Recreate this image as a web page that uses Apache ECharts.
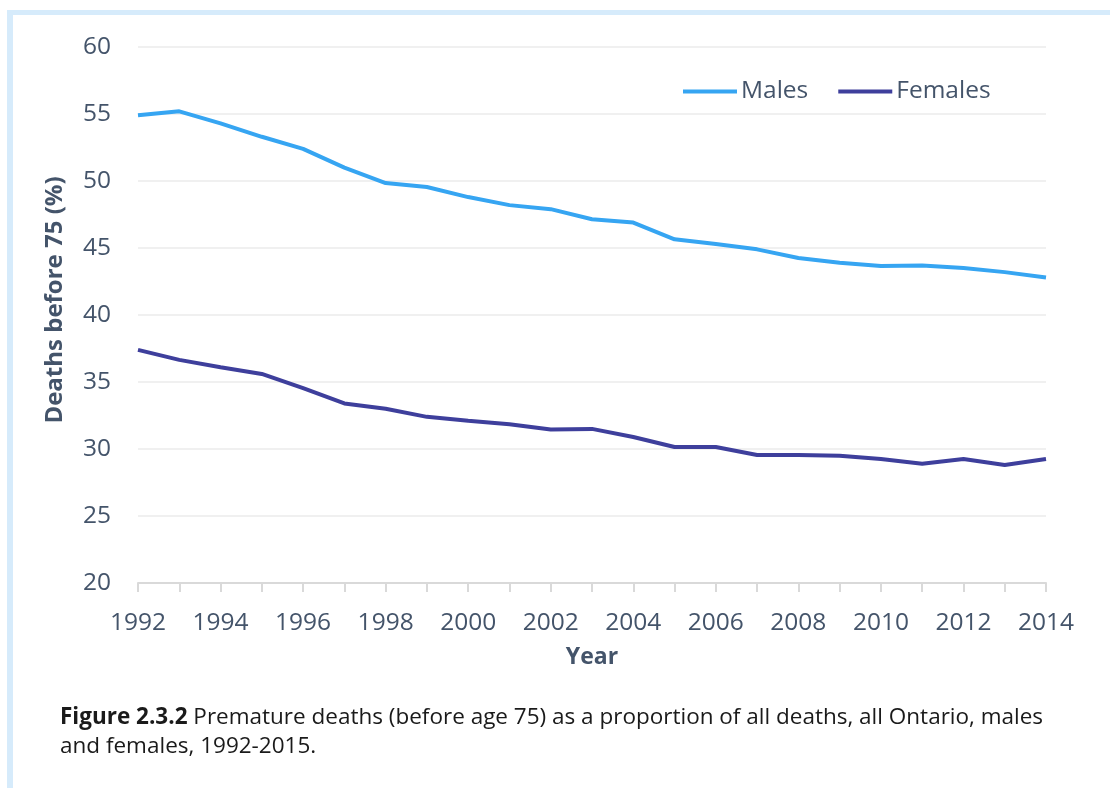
<!DOCTYPE html>
<html>
<head>
<meta charset="utf-8">
<script src="https://cdn.jsdelivr.net/npm/echarts@6/dist/echarts.min.js"></script>
<style>
  html, body { margin: 0; padding: 0; background: #ffffff; }
  #frame {
    position: absolute; left: 7px; top: 10px; width: 1103px; height: 778px;
    border-left: 6px solid #d6ebfb; border-top: 5px solid #d6ebfb;
    box-sizing: border-box;
  }
  #chart { position: absolute; left: 0; top: 0; width: 1110px; height: 788px; }
</style>
</head>
<body>
<div id="frame"></div>
<div id="chart"></div>
<script>
// Years on the horizontal axis
const years = ['1992','1993','1994','1995','1996','1997','1998','1999','2000','2001','2002',
               '2003','2004','2005','2006','2007','2008','2009','2010','2011','2012','2013','2014'];

// Share of deaths occurring before age 75 (%)
const males = [54.9, 55.2, 54.3, 53.3, 52.4, 51.0, 49.85, 49.55, 48.8, 48.2, 47.9,
               47.15, 46.9, 45.65, 45.3, 44.9, 44.25, 43.9, 43.65, 43.7, 43.5, 43.2, 42.8];
const females = [37.4, 36.65, 36.1, 35.6, 34.55, 33.4, 33.0, 32.4, 32.1, 31.85, 31.45,
                 31.5, 30.9, 30.15, 30.15, 29.55, 29.55, 29.5, 29.25, 28.9, 29.25, 28.8, 29.25];

const seriesNames = ['Males', 'Females'];
const yTicks = { min: 20, max: 60, interval: 5 };

const axisText = '#44546a';
const font = '"Open Sans", "Noto Sans", sans-serif';

const chart = echarts.init(document.getElementById('chart'), null, { renderer: 'canvas' });

chart.setOption({
  animation: false,
  textStyle: { fontFamily: font },
  grid: { left: 138, right: 64, top: 47, bottom: 205, containLabel: false },
  legend: {
    data: seriesNames,
    top: 74,
    left: 678,
    itemWidth: 54,
    itemHeight: 4,
    itemGap: 30,
    icon: 'rect',
    textStyle: { fontSize: 24.5, color: axisText, fontFamily: font, padding: [0, 0, 0, -1] }
  },
  xAxis: {
    type: 'category',
    data: years,
    boundaryGap: false,
    name: 'Year',
    nameLocation: 'middle',
    nameGap: 63,
    nameTextStyle: { fontSize: 23, fontWeight: 'bold', color: axisText, fontFamily: font },
    axisLine: { lineStyle: { color: '#d9d9d9', width: 2 } },
    axisTick: { show: true, length: 9, interval: 0, lineStyle: { color: '#d9d9d9', width: 2 } },
    axisLabel: { interval: 1, fontSize: 24.5, color: axisText, margin: 28, fontFamily: font },
    splitLine: { show: false }
  },
  yAxis: {
    type: 'value',
    min: yTicks.min,
    max: yTicks.max,
    interval: yTicks.interval,
    axisLine: { show: false },
    axisTick: { show: false },
    axisLabel: { fontSize: 24.5, color: axisText, margin: 27, fontFamily: font },
    splitLine: { lineStyle: { color: '#f0f0f0', width: 2 } }
  },
  series: [
    {
      name: seriesNames[0], type: 'line', data: males,
      showSymbol: false, symbol: 'none',
      lineStyle: { color: '#36a5f2', width: 4 }, itemStyle: { color: '#36a5f2' }
    },
    {
      name: seriesNames[1], type: 'line', data: females,
      showSymbol: false, symbol: 'none',
      lineStyle: { color: '#3e3f9c', width: 4 }, itemStyle: { color: '#3e3f9c' }
    }
  ],
  graphic: [
    {
      // vertical axis title
      type: 'text',
      x: 55,
      y: 300,
      rotation: Math.PI / 2,
      style: {
        text: 'Deaths before 75 (%)',
        fontFamily: font,
        fontSize: 24,
        fontWeight: 'bold',
        fill: axisText,
        align: 'center',
        verticalAlign: 'middle'
      }
    },
    {
      type: 'text',
      left: 60,
      top: 703,
      style: {
        text: '{b|Figure 2.3.2} Premature deaths (before age 75) as a proportion of all deaths, all Ontario, males\nand females, 1992-2015.',
        fontFamily: font,
        fontSize: 22.5,
        lineHeight: 29,
        fill: '#1a1a1a',
        rich: {
          b: { fontWeight: 'bold', fontSize: 22.5, fontFamily: font, fill: '#1a1a1a', lineHeight: 29 }
        }
      }
    }
  ]
});
</script>
</body>
</html>
